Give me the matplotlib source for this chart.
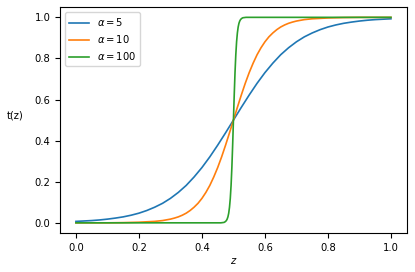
import matplotlib
matplotlib.use('Agg')
import matplotlib.pyplot as plt

# values
z_a5 = [0.0, 0.025, 0.05, 0.075, 0.1, 0.125, 0.15, 0.175, 0.2, 0.225, 0.25,
        0.275, 0.3, 0.325, 0.35, 0.375, 0.4, 0.425, 0.45, 0.475, 0.5,
        0.525, 0.55, 0.575, 0.6, 0.625, 0.65, 0.675, 0.7, 0.725, 0.75,
        0.775, 0.8, 0.825, 0.85, 0.875, 0.9, 0.925, 0.95, 0.975, 1.0]
t_a5 = [0.007, 0.009, 0.011, 0.014, 0.018, 0.023, 0.029, 0.037, 0.047, 0.060, 0.076,
        0.095, 0.119, 0.148, 0.182, 0.223, 0.269, 0.321, 0.378, 0.438, 0.5,
        0.562, 0.622, 0.679, 0.731, 0.777, 0.818, 0.852, 0.881, 0.905, 0.924,
        0.940, 0.953, 0.963, 0.971, 0.977, 0.982, 0.986, 0.989, 0.991, 0.993]

z_a10 = [0.0, 0.1, 0.15, 0.2, 0.25, 0.275, 0.3,
         0.3125, 0.325, 0.3375, 0.35, 0.3625, 0.375, 0.3875, 0.4,
         0.4125, 0.425, 0.4375, 0.45, 0.4625, 0.475, 0.4875, 0.5,
         0.5125, 0.525, 0.5375, 0.55, 0.5625, 0.575, 0.5875, 0.6,
         0.6125, 0.625, 0.6375, 0.65, 0.6625, 0.675, 0.6875, 0.7,
         0.725, 0.75, 0.8, 0.85, 0.9, 1.0]
t_a10 = [0.0, 0.0, 0.001, 0.003, 0.007, 0.011, 0.018,
         0.023, 0.029, 0.037, 0.047, 0.060, 0.076, 0.095, 0.119,
         0.148, 0.182, 0.223, 0.269, 0.321, 0.378, 0.438, 0.5,
         0.562, 0.622, 0.679, 0.731, 0.777, 0.818, 0.852, 0.881,
         0.905, 0.924, 0.940, 0.953, 0.963, 0.971, 0.977, 0.982,
         0.989, 0.993, 0.997, 0.999, 1.0, 1.0]

z_a100 = [0.0, 0.45, 0.46, 0.465,
          0.47, 0.4725, 0.475, 0.4775, 0.48, 0.4825, 0.485, 0.4875, 0.49,
          0.4925, 0.495, 0.4975, 0.5, 0.5025, 0.505, 0.5075, 0.51,
          0.5125, 0.515, 0.5175, 0.52, 0.5225, 0.525, 0.5275, 0.53,
          0.535, 0.54, 0.55, 1.0]
t_a100 = [0.0, 0.0, 0.0, 0.001,
          0.002, 0.004, 0.007, 0.011, 0.018, 0.029, 0.047, 0.076, 0.119,
          0.182, 0.269, 0.378, 0.5, 0.622, 0.731, 0.818, 0.881,
          0.924, 0.953, 0.971, 0.982, 0.989, 0.993, 0.996, 0.998,
          0.999, 1.0, 1.0, 1.0]

labels = [r'$\alpha = 5$', r'$\alpha = 10$', r'$\alpha = 100$']

plt.rcParams['font.size'] = 7.2

fig = plt.figure(figsize=(4.15, 2.72), dpi=100)
ax = fig.add_axes([0.145, 0.143, 0.835, 0.831])

ax.plot(z_a5, t_a5, label=labels[0], linewidth=1.2)
ax.plot(z_a10, t_a10, label=labels[1], linewidth=1.2)
ax.plot(z_a100, t_a100, label=labels[2], linewidth=1.2)

ax.set_xlabel('$z$', labelpad=2)
ax.set_ylabel('t(z)', rotation=0, labelpad=14)
ax.legend(loc='upper left')

fig.savefig('out.png', dpi=100)
